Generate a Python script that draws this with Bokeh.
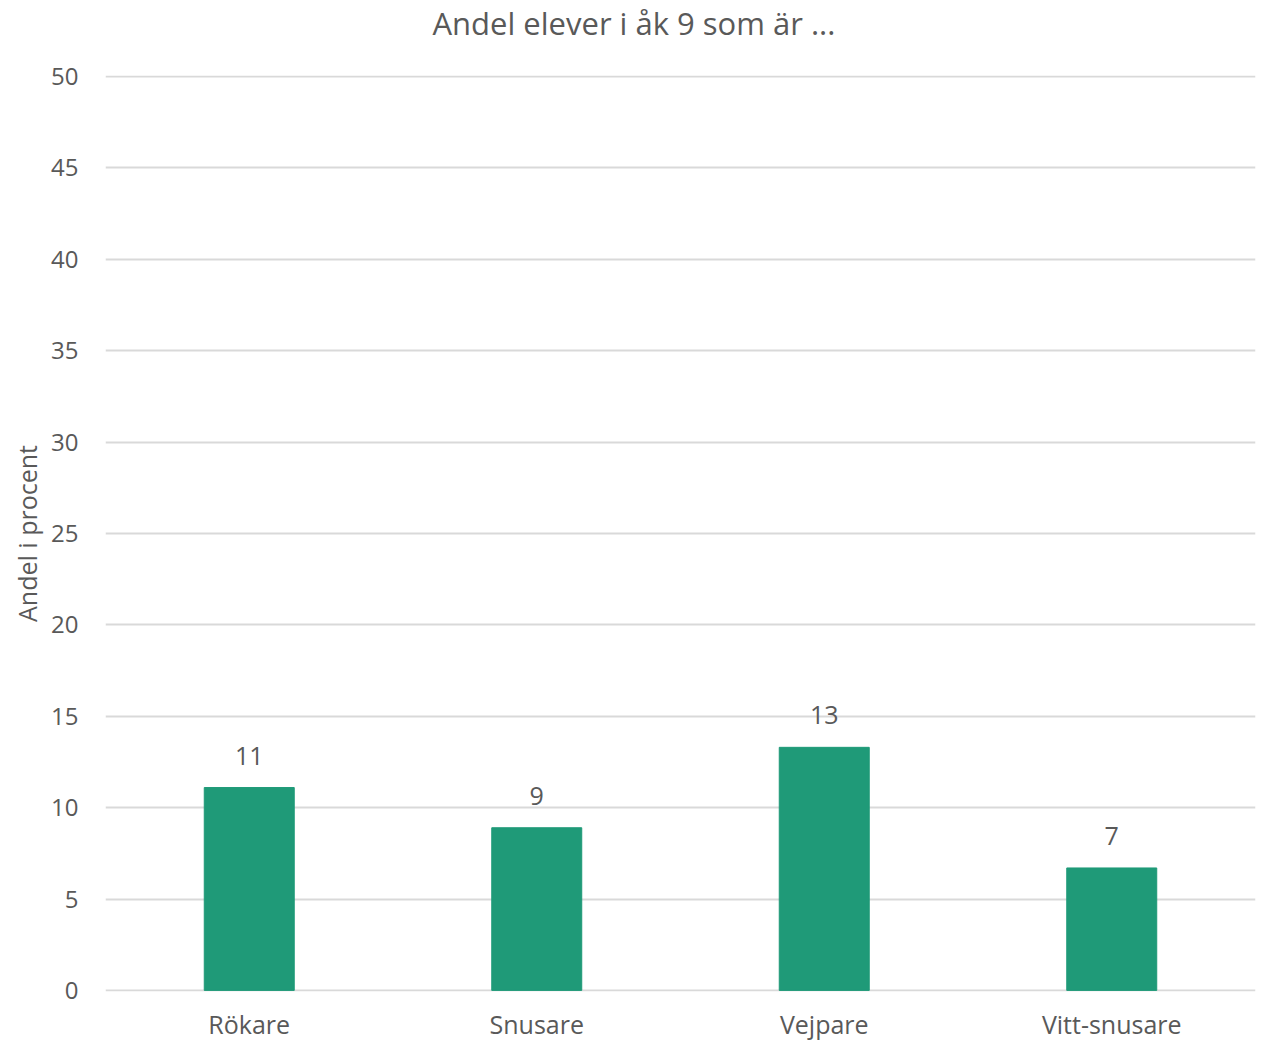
from bokeh.plotting import figure
from bokeh.models import ColumnDataSource, FactorRange, Range1d, SingleIntervalTicker, LabelSet, Title
from bokeh.core.properties import value
from bokeh.embed import file_html
from bokeh.resources import INLINE

categories = ["Rökare", "Snusare", "Vejpare", "Vitt-snusare"]
values = [11.1, 8.9, 13.3, 6.7]
labels = ["11", "9", "13", "7"]
title_text = "Andel elever i åk 9 som är ..."
y_label = "Andel i procent"

FONT = "Open Sans"
GREY = "#595959"

src = ColumnDataSource(dict(cat=categories, val=values, lab=labels))

p = figure(x_range=FactorRange(*categories, range_padding=0), y_range=Range1d(-0.06, 50.06),
           width=1268, height=1043, output_backend="svg", toolbar_location=None, title=None,
           min_border_left=105, min_border_right=13, min_border_top=75, min_border_bottom=51)

p.vbar(x="cat", top="val", width=0.313, source=src, fill_color="#1f9a78", line_color="#1f9a78")

ls = LabelSet(x="cat", y="val", text="lab", source=src, text_align="center", text_baseline="middle",
              y_offset=32, text_font=value(FONT), text_font_size="25px", text_color=GREY)
p.add_layout(ls)

spacer = Title(text=" ", text_font=FONT, text_font_size="16px", standoff=6)
main_title = Title(text=title_text, align="left", offset=327, text_font=FONT,
                   text_font_size="31px", text_font_style="normal", text_color=GREY,
                   standoff=0, vertical_align="top")
p.add_layout(spacer, "above")
p.add_layout(main_title, "above")

p.yaxis.ticker = SingleIntervalTicker(interval=5)
p.ygrid.ticker = SingleIntervalTicker(interval=5)
p.yaxis.axis_label = y_label
p.yaxis.axis_label_text_font = FONT
p.yaxis.axis_label_text_font_size = "25px"
p.yaxis.axis_label_text_font_style = "normal"
p.yaxis.axis_label_text_color = GREY
p.yaxis.axis_label_standoff = 4
for ax in (p.xaxis, p.yaxis):
    ax.axis_line_color = None
    ax.major_tick_line_color = None
    ax.minor_tick_line_color = None
    ax.major_tick_out = 0
    ax.major_tick_in = 0
    ax.minor_tick_out = 0
    ax.major_label_text_font = FONT
    ax.major_label_text_color = GREY
p.yaxis.major_label_text_font_size = "24px"
p.xaxis.major_label_text_font_size = "25px"
p.yaxis.major_label_standoff = 27
p.xaxis.major_label_standoff = 15

p.xgrid.grid_line_color = None
p.ygrid.grid_line_color = "#d9d9d9"
p.ygrid.grid_line_width = 2
p.outline_line_color = None

open("out.html", "w").write(file_html(p, INLINE))
